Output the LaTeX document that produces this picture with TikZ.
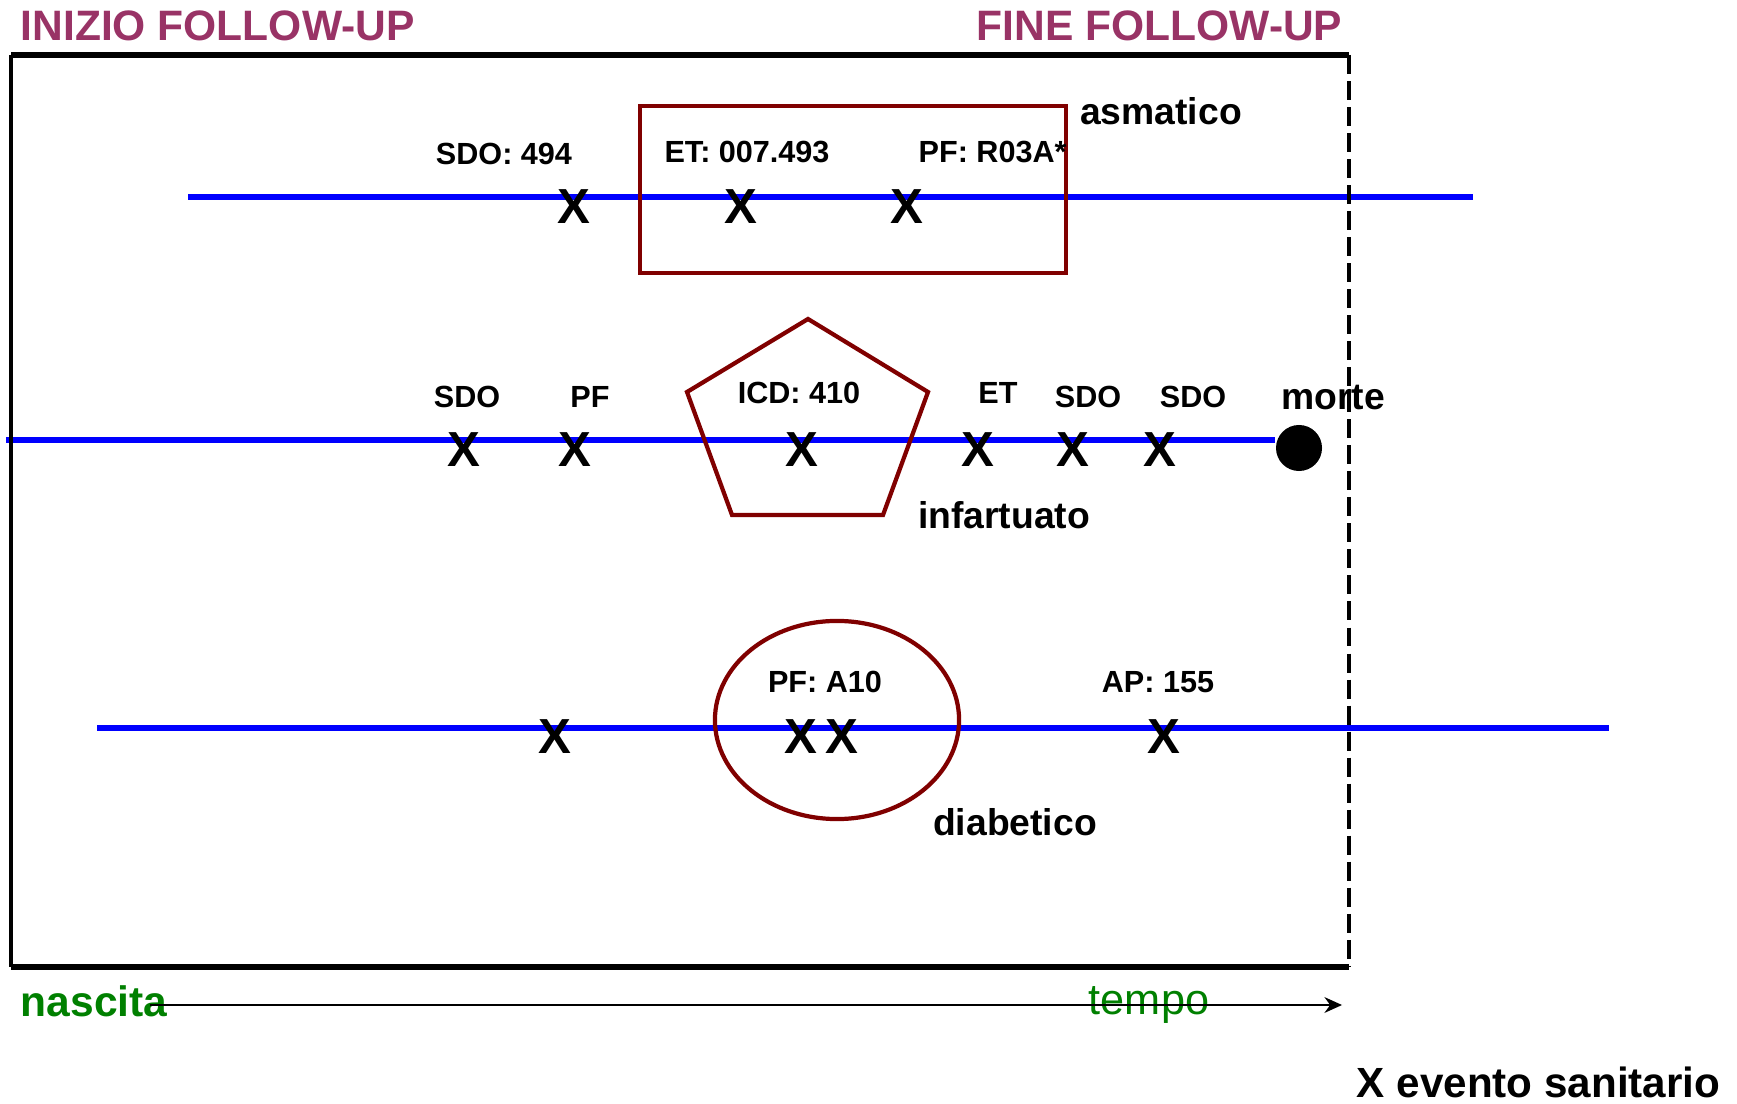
\documentclass[tikz,border=0pt]{standalone}
\usepackage{fontspec}
\setmainfont{Liberation Sans}
\usetikzlibrary{shapes.geometric, arrows.meta, positioning, calc}
\definecolor{titlepurple}{RGB}{153,51,102}
\definecolor{framered}{RGB}{128,0,0}
\definecolor{timegreen}{RGB}{0,128,0}
\tikzstyle{timeline} = [draw=blue, line width=1.8pt]
\tikzstyle{event} = [inner sep=0pt, font=\fontsize{14}{14}\selectfont\bfseries]
\tikzstyle{code} = [inner sep=0pt, font=\fontsize{8.7}{10}\selectfont\bfseries]
\tikzstyle{group} = [inner sep=0pt, font=\fontsize{10.6}{12}\selectfont\bfseries]
\tikzstyle{title} = [inner sep=0pt, text=titlepurple, font=\fontsize{12.1}{14}\selectfont\bfseries]
\tikzstyle{frame} = [draw=framered, line width=1.2pt]

\begin{document}
\begin{tikzpicture}[x=0.01cm, y=-0.01cm]
    \useasboundingbox (0,0) rectangle (1737,1104);

    % titles
    \node (start) [title, anchor=west] at (20,26) {INIZIO FOLLOW-UP};
    \node (end) [title, anchor=east] at (1343,26) {FINE FOLLOW-UP};

    % asmatico
    \coordinate (a1) at (188,197);
    \coordinate (a2) at (1473,197);
    \draw [timeline] (a1) -- (a2);
    \node (asmbox) [frame, draw, minimum width=4.26cm, minimum height=1.67cm] at (853,189.5) {};
    \node (xa1) [event] at (574,207) {X};
    \node (xa2) [event] at (741,207) {X};
    \node (xa3) [event] at (907,207) {X};
    \node (la1) [code] at (504,154) {SDO: 494};
    \node (la2) [code] at (747,152) {ET: 007.493};
    \node (la3) [code, anchor=west] at (918,152) {PF: R03A*};
    \node (asm) [group] at (1161,111) {asmatico};

    % infartuato
    \coordinate (b1) at (6,440);
    \node (death) [circle, fill=black, minimum size=0.46cm, inner sep=0pt] at (1299,448) {};
    \draw [timeline] (b1) -- (b1 -| death.west);
    \draw [frame] (808,319) -- (928,392) -- (883,515) -- (732,515) -- (687,392) -- cycle;
    \node (xb1) [event] at (464,450) {X};
    \node (xb2) [event] at (575,450) {X};
    \node (xb3) [event] at (802,450) {X};
    \node (xb4) [event] at (978,450) {X};
    \node (xb5) [event] at (1073,450) {X};
    \node (xb6) [event] at (1160,450) {X};
    \node (lb1) [code] at (467,397) {SDO};
    \node (lb2) [code] at (590,397) {PF};
    \node (lb3) [code] at (799,393) {ICD: 410};
    \node (lb4) [code] at (998,393) {ET};
    \node (lb5) [code] at (1088,397) {SDO};
    \node (lb6) [code] at (1193,397) {SDO};
    \node (morte) [group] at (1333,398) {morte};
    \node (inf) [group] at (1004,515) {infartuato};

    % diabetico
    \coordinate (c1) at (97,728);
    \coordinate (c2) at (1609,728);
    \draw [timeline] (c1) -- (c2);
    \node (diabring) [frame, draw, ellipse, minimum width=2.44cm, minimum height=1.98cm] at (837,720) {};
    \node (xc1) [event] at (555,737) {X};
    \node (xc2) [event] at (801,737) {X};
    \node (xc3) [event] at (842,737) {X};
    \node (xc4) [event] at (1164,737) {X};
    \node (lc1) [code] at (825,682) {PF: A10};
    \node (lc2) [code] at (1158,682) {AP: 155};
    \node (diab) [group] at (1015,822) {diabetico};

    % follow-up frame
    \draw [line width=1.5pt] (1349,55) -- (11,55);
    \draw [line width=1.5pt] (11,967) -- (1349,967);
    \draw [line width=1pt] (11,55) -- (11,967);
    \draw [line width=1.2pt, dash pattern=on 5.4pt off 2pt] (1349,55) -- (1349,967);

    % time axis
    \node (birth) [anchor=west, inner sep=0pt, text=timegreen, font=\fontsize{12.1}{14}\selectfont\bfseries] at (20,1001) {nascita};
    \node (time) [inner sep=0pt, text=timegreen, font=\fontsize{12.3}{14}\selectfont] at (1149,1005) {tempo};
    \coordinate (t0) at (150,1005);
    \coordinate (t1) at (1342,1005);
    \draw [line width=0.5pt, -{Stealth[length=5pt, width=4.5pt]}] (t0) -- (t1);

    % legend
    \node (legend) [anchor=east, inner sep=0pt, font=\fontsize{12}{13}\selectfont\bfseries] at (1721,1082) {X evento sanitario};
\end{tikzpicture}
\end{document}
